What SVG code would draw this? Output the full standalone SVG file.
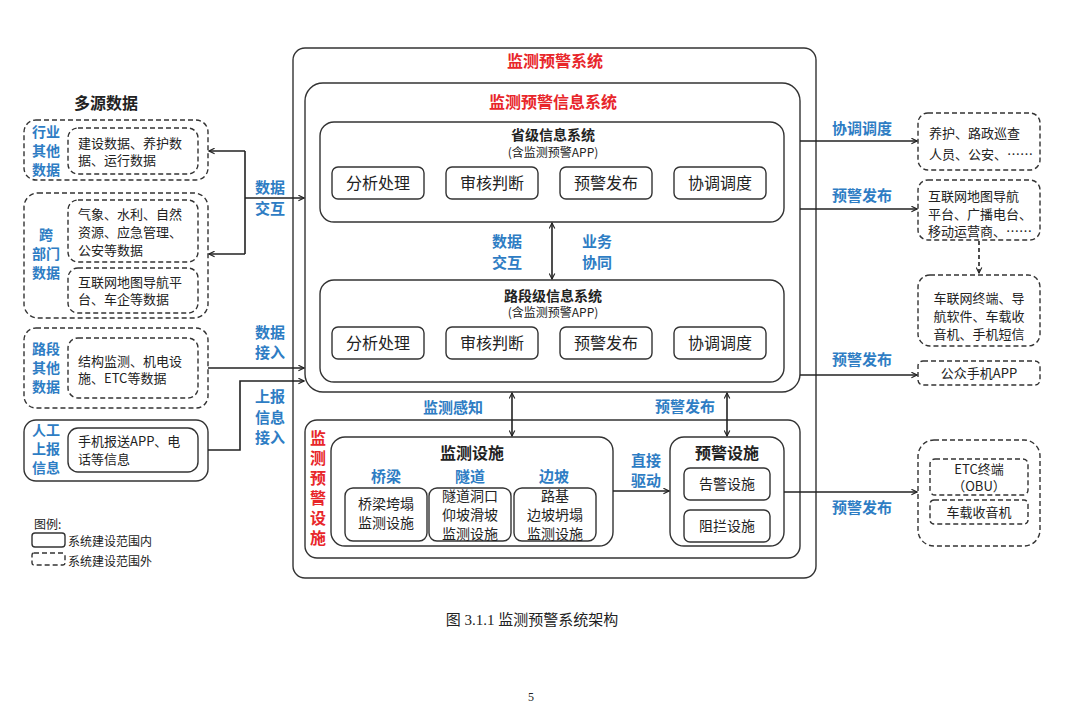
<svg xmlns="http://www.w3.org/2000/svg" width="1080" height="709" viewBox="0 0 1080 709">
<style>
text{font-family:"Noto Sans CJK SC","Liberation Sans",sans-serif;fill:#222}
.b{fill:none;stroke:#333;stroke-width:1.4}
.d{fill:none;stroke:#333;stroke-width:1.4;stroke-dasharray:5,3}
.btn{fill:#fff;stroke:#333;stroke-width:1.4}
.red{fill:#E8262A;font-weight:700;font-size:16px}
.blue{fill:#2E7DC4;font-weight:700;font-size:15px}
.lb{fill:#2E7DC4;font-weight:700;font-size:14px}
.t13{font-size:13px}
.t16{font-size:16px}
.bold{font-weight:700}
.ln{fill:none;stroke:#222;stroke-width:1.6}
.dl{fill:none;stroke:#222;stroke-width:1.6;stroke-dasharray:4,3}
</style>
<defs>
<marker id="ah" viewBox="0 0 10 10" refX="9" refY="5" markerWidth="7" markerHeight="7" orient="auto-start-reverse" markerUnits="userSpaceOnUse">
<path d="M1,1 L9,5 L1,9" fill="none" stroke="#222" stroke-width="1.6"/>
</marker>
</defs>
<rect width="1080" height="709" fill="#fff"/>

<g id="outer-system">
<rect class="b" x="293" y="48" width="523" height="530" rx="12"/>
<text class="red" x="555" y="67" text-anchor="middle">监测预警系统</text>
</g>

<g id="info-system">
<rect class="b" x="305" y="83" width="495" height="309" rx="18"/>
<text class="red" x="553" y="108" text-anchor="middle">监测预警信息系统</text>
</g>

<g id="province">
<rect class="b" x="320" y="122" width="464" height="100" rx="14"/>
<text class="bold" x="553" y="140" text-anchor="middle" font-size="14">省级信息系统</text>
<text x="553" y="157" text-anchor="middle" font-size="12">(含监测预警APP)</text>
<rect class="btn" x="332" y="167" width="92" height="32" rx="6"/>
<text class="t16" x="378" y="189" text-anchor="middle">分析处理</text>
<rect class="btn" x="446" y="167" width="92" height="32" rx="6"/>
<text class="t16" x="492" y="189" text-anchor="middle">审核判断</text>
<rect class="btn" x="560" y="167" width="92" height="32" rx="6"/>
<text class="t16" x="606" y="189" text-anchor="middle">预警发布</text>
<rect class="btn" x="674" y="167" width="92" height="32" rx="6"/>
<text class="t16" x="720" y="189" text-anchor="middle">协调调度</text>
</g>

<g id="section">
<rect class="b" x="320" y="280" width="464" height="102" rx="14"/>
<text class="bold" x="553" y="301" text-anchor="middle" font-size="14">路段级信息系统</text>
<text x="553" y="317" text-anchor="middle" font-size="12">(含监测预警APP)</text>
<rect class="btn" x="332" y="327" width="92" height="32" rx="6"/>
<text class="t16" x="378" y="349" text-anchor="middle">分析处理</text>
<rect class="btn" x="446" y="327" width="92" height="32" rx="6"/>
<text class="t16" x="492" y="349" text-anchor="middle">审核判断</text>
<rect class="btn" x="560" y="327" width="92" height="32" rx="6"/>
<text class="t16" x="606" y="349" text-anchor="middle">预警发布</text>
<rect class="btn" x="674" y="327" width="92" height="32" rx="6"/>
<text class="t16" x="720" y="349" text-anchor="middle">协调调度</text>
</g>

<g id="facilities">
<rect class="b" x="305" y="420" width="495" height="138" rx="12"/>
<text class="red" x="318" y="430" style="writing-mode:vertical-rl;letter-spacing:4px">监测预警设施</text>
</g>

<g id="monitor">
<rect class="b" x="331" y="437" width="282" height="109" rx="14"/>
<text class="bold" x="472" y="459" text-anchor="middle" font-size="16">监测设施</text>
<text class="blue" x="386" y="482" text-anchor="middle">桥梁</text>
<text class="blue" x="470" y="482" text-anchor="middle">隧道</text>
<text class="blue" x="554" y="482" text-anchor="middle">边坡</text>
<rect class="btn" x="345" y="488" width="82" height="53" rx="8"/>
<text font-size="14" text-anchor="middle"><tspan x="386" y="509">桥梁垮塌</tspan><tspan x="386" y="528">监测设施</tspan></text>
<rect class="btn" x="429" y="488" width="82" height="53" rx="8"/>
<text font-size="14" text-anchor="middle"><tspan x="470" y="501">隧道洞口</tspan><tspan x="470" y="520">仰坡滑坡</tspan><tspan x="470" y="539">监测设施</tspan></text>
<rect class="btn" x="514" y="488" width="82" height="53" rx="8"/>
<text font-size="14" text-anchor="middle"><tspan x="555" y="501">路基</tspan><tspan x="555" y="520">边坡坍塌</tspan><tspan x="555" y="539">监测设施</tspan></text>
</g>

<g id="warning">
<rect class="b" x="670" y="437" width="114" height="109" rx="14"/>
<text class="bold" x="727" y="459" text-anchor="middle" font-size="16">预警设施</text>
<rect class="btn" x="684" y="468" width="86" height="32" rx="6"/>
<text x="727" y="489" text-anchor="middle" font-size="14">告警设施</text>
<rect class="btn" x="684" y="510" width="86" height="32" rx="6"/>
<text x="727" y="531" text-anchor="middle" font-size="14">阻拦设施</text>
</g>

<g id="multi-source">
<text class="bold" x="106" y="109" text-anchor="middle" font-size="16">多源数据</text>
</g>

<g id="industry">
<rect class="d" x="24" y="120" width="184" height="60" rx="12"/>
<rect class="d" x="68" y="128" width="130" height="46" rx="10"/>
<text class="lb" text-anchor="middle"><tspan x="46" y="137">行业</tspan><tspan x="46" y="156">其他</tspan><tspan x="46" y="175">数据</tspan></text>
<text class="t13"><tspan x="78" y="148">建设数据、养护数</tspan><tspan x="78" y="165">据、运行数据</tspan></text>
</g>

<g id="cross-dept">
<rect class="d" x="24" y="193" width="184" height="125" rx="14"/>
<rect class="d" x="68" y="200" width="130" height="62" rx="10"/>
<rect class="d" x="68" y="268" width="130" height="45" rx="10"/>
<text class="lb" text-anchor="middle"><tspan x="46" y="240">跨</tspan><tspan x="46" y="259">部门</tspan><tspan x="46" y="278">数据</tspan></text>
<text class="t13"><tspan x="78" y="219">气象、水利、自然</tspan><tspan x="78" y="237">资源、应急管理、</tspan><tspan x="78" y="255">公安等数据</tspan></text>
<text class="t13"><tspan x="78" y="287">互联网地图导航平</tspan><tspan x="78" y="304">台、车企等数据</tspan></text>
</g>

<g id="road-other">
<rect class="d" x="24" y="328" width="184" height="80" rx="12"/>
<rect class="d" x="68" y="338" width="130" height="60" rx="10"/>
<text class="lb" text-anchor="middle"><tspan x="46" y="354">路段</tspan><tspan x="46" y="373">其他</tspan><tspan x="46" y="392">数据</tspan></text>
<text class="t13"><tspan x="78" y="366">结构监测、机电设</tspan><tspan x="78" y="383">施、ETC等数据</tspan></text>
</g>

<g id="manual">
<rect class="b" x="24" y="420" width="184" height="61" rx="12"/>
<rect class="b" x="68" y="428" width="130" height="44" rx="10"/>
<text class="lb" text-anchor="middle"><tspan x="46" y="435">人工</tspan><tspan x="46" y="454">上报</tspan><tspan x="46" y="473">信息</tspan></text>
<text class="t13"><tspan x="78" y="446">手机报送APP、电</tspan><tspan x="78" y="464">话等信息</tspan></text>
</g>

<g id="legend">
<text x="34" y="529" font-size="12">图例:</text>
<rect class="b" x="32" y="533" width="33" height="14" rx="3"/>
<text x="68" y="546" font-size="12">系统建设范围内</text>
<rect class="d" x="32" y="553" width="33" height="12" rx="2"/>
<text x="68" y="566" font-size="12">系统建设范围外</text>
</g>

<g id="r-dispatch">
<rect class="d" x="918" y="113" width="122" height="57" rx="10"/>
<text class="t13"><tspan x="929" y="138">养护、路政巡查</tspan><tspan x="929" y="159">人员、公安、……</tspan></text>
</g>
<g id="r-platform">
<rect class="d" x="918" y="180" width="122" height="60" rx="10"/>
<text class="t13"><tspan x="928" y="201">互联网地图导航</tspan><tspan x="928" y="219">平台、广播电台、</tspan><tspan x="928" y="236">移动运营商、……</tspan></text>
</g>
<g id="r-terminal">
<rect class="d" x="918" y="275" width="122" height="71" rx="12"/>
<text class="t13" text-anchor="middle"><tspan x="979" y="303">车联网终端、导</tspan><tspan x="979" y="321">航软件、车载收</tspan><tspan x="979" y="339">音机、手机短信</tspan></text>
</g>
<g id="r-app">
<rect class="d" x="918" y="361" width="122" height="24" rx="5"/>
<text class="t13" x="979" y="378" text-anchor="middle">公众手机APP</text>
</g>
<g id="r-etc">
<rect class="d" x="918" y="440" width="122" height="106" rx="16"/>
<rect class="d" x="930" y="459" width="98" height="36" rx="5"/>
<text class="t13" text-anchor="middle"><tspan x="979" y="474">ETC终端</tspan><tspan x="979" y="491">（OBU）</tspan></text>
<rect class="d" x="930" y="500" width="98" height="24" rx="4"/>
<text class="t13" x="979" y="517" text-anchor="middle">车载收音机</text>
</g>

<g id="connectors">
<path class="ln" d="M245,151 V254" />
<path class="ln" d="M245,151 H209" marker-end="url(#ah)"/>
<path class="ln" d="M245,254 H209" marker-end="url(#ah)"/>
<path class="ln" d="M245,198 H304" marker-end="url(#ah)"/>
<path class="ln" d="M208,368 H304" marker-end="url(#ah)"/>
<path class="ln" d="M208,450 H240 V381 H304" marker-end="url(#ah)"/>
<path class="ln" d="M552,223 V279" marker-start="url(#ah)" marker-end="url(#ah)"/>
<path class="ln" d="M512,393 V436" marker-start="url(#ah)" marker-end="url(#ah)"/>
<path class="ln" d="M727,393 V436" marker-start="url(#ah)" marker-end="url(#ah)"/>
<path class="ln" d="M613,491 H669" marker-end="url(#ah)"/>
<path class="ln" d="M800,141 H917" marker-end="url(#ah)"/>
<path class="ln" d="M800,209 H917" marker-end="url(#ah)"/>
<path class="ln" d="M800,375 H917" marker-end="url(#ah)"/>
<path class="ln" d="M784,492 H917" marker-end="url(#ah)"/>
<path class="dl" d="M979,241 V273" marker-end="url(#ah)"/>
</g>

<g id="labels">
<text class="blue" text-anchor="middle"><tspan x="270" y="193">数据</tspan><tspan x="270" y="214">交互</tspan></text>
<text class="blue" text-anchor="middle"><tspan x="270" y="338">数据</tspan><tspan x="270" y="358">接入</tspan></text>
<text class="blue" text-anchor="middle"><tspan x="270" y="402">上报</tspan><tspan x="270" y="423">信息</tspan><tspan x="270" y="443">接入</tspan></text>
<text class="blue" text-anchor="middle"><tspan x="507" y="247">数据</tspan><tspan x="507" y="268">交互</tspan></text>
<text class="blue" text-anchor="middle"><tspan x="597" y="247">业务</tspan><tspan x="597" y="268">协同</tspan></text>
<text class="blue" x="453" y="413" text-anchor="middle">监测感知</text>
<text class="blue" x="685" y="412" text-anchor="middle">预警发布</text>
<text class="blue" text-anchor="middle"><tspan x="646" y="466">直接</tspan><tspan x="646" y="486">驱动</tspan></text>
<text class="blue" x="862" y="134" text-anchor="middle">协调调度</text>
<text class="blue" x="862" y="201" text-anchor="middle">预警发布</text>
<text class="blue" x="862" y="365" text-anchor="middle">预警发布</text>
<text class="blue" x="862" y="513" text-anchor="middle">预警发布</text>
</g>

<g id="caption">
<text x="532" y="625" text-anchor="middle" font-size="15" style="font-family:'Liberation Serif','Noto Sans CJK SC',serif">图 3.1.1  监测预警系统架构</text>
<text x="531" y="701" text-anchor="middle" font-size="12" style="font-family:'Liberation Serif',serif">5</text>
</g>
</svg>
